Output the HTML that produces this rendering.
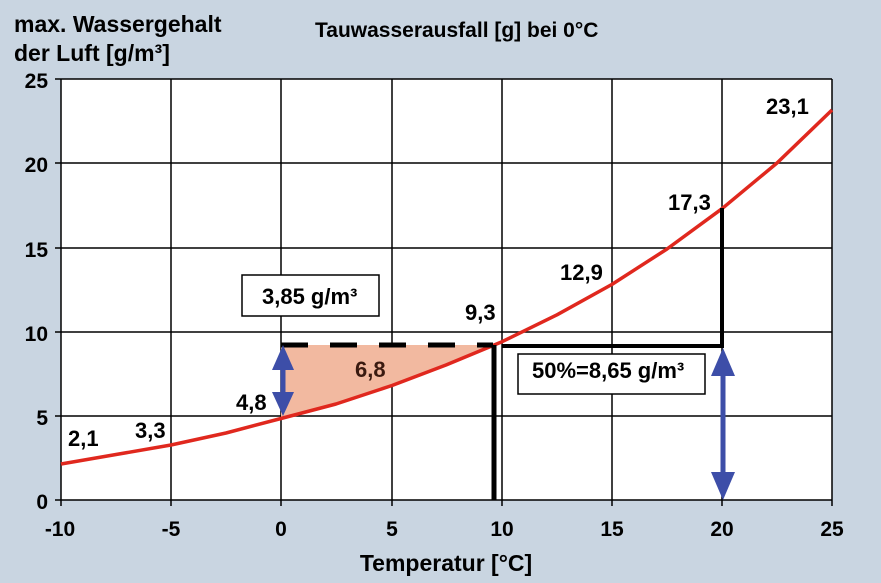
<!DOCTYPE html><html><head><style>body{margin:0;background:#c9d5e1}svg{display:block}text{font-family:"Liberation Sans",sans-serif;font-weight:bold;fill:#000}</style></head><body>
<svg width="881" height="583" viewBox="0 0 881 583">
<rect width="881" height="583" fill="#c9d5e1"/>
<rect x="61" y="79" width="771" height="421" fill="#fff"/>
<g stroke="#000" stroke-width="1.5">
<line x1="61" y1="79" x2="832" y2="79"/><line x1="61" y1="163" x2="832" y2="163"/><line x1="61" y1="248" x2="832" y2="248"/><line x1="61" y1="332" x2="832" y2="332"/><line x1="61" y1="416" x2="832" y2="416"/><line x1="61" y1="500" x2="832" y2="500"/>
<line x1="61" y1="79" x2="61" y2="506"/><line x1="171" y1="79" x2="171" y2="506"/><line x1="281" y1="79" x2="281" y2="506"/><line x1="392" y1="79" x2="392" y2="506"/><line x1="502" y1="79" x2="502" y2="506"/><line x1="612" y1="79" x2="612" y2="506"/><line x1="722" y1="79" x2="722" y2="506"/><line x1="832" y1="79" x2="832" y2="506"/>
<line x1="55" y1="79" x2="61" y2="79"/><line x1="55" y1="163" x2="61" y2="163"/><line x1="55" y1="248" x2="61" y2="248"/><line x1="55" y1="332" x2="61" y2="332"/><line x1="55" y1="416" x2="61" y2="416"/><line x1="55" y1="500" x2="61" y2="500"/>
</g>
<path d="M281,345 L493,345 L446,365 L419,375.5 L392,385.5 L364,395 L336,404 L308,411.5 L281,418.5 Z" fill="#f2b9a0"/>
<path d="M61,464 L116,454.5 L171,445 L226,433 L281,418.5 L336,404 L392,385.5 L446,365 L502,341.7 L557,314.8 L612,284.4 L667,249 L722,208.7 L777,163 L832,110" fill="none" stroke="#e0281e" stroke-width="3.5" stroke-linejoin="round"/>
<line x1="281" y1="345" x2="493" y2="345" stroke="#000" stroke-width="5" stroke-dasharray="27,22"/>
<line x1="494" y1="345" x2="494" y2="500" stroke="#000" stroke-width="5"/>
<polyline points="502,346 722,346 722,208" fill="none" stroke="#000" stroke-width="4"/>
<g fill="#3d4ea8" stroke="#3d4ea8">
<line x1="283" y1="360" x2="283" y2="402" stroke-width="5"/>
<polygon points="283,345 272,370 294,370" stroke="none"/><polygon points="283,416 272,392 294,392" stroke="none"/>
<line x1="723" y1="365" x2="723" y2="482" stroke-width="5"/>
<polygon points="723,348 711,376 735,376" stroke="none"/><polygon points="723,500 711,472 735,472" stroke="none"/>
</g>
<rect x="242" y="275" width="137" height="41" fill="#fff" stroke="#000" stroke-width="1.5"/>
<text x="262" y="304" font-size="22">3,85 g/m³</text>
<rect x="518" y="354" width="187" height="40" fill="#fff" stroke="#000" stroke-width="1.5"/>
<text x="532" y="378" font-size="22">50%=8,65 g/m³</text>
<g font-size="22">
<text x="68" y="446">2,1</text><text x="135" y="438">3,3</text><text x="236" y="410">4,8</text>
<text x="355" y="377" style="fill:#3a1a10">6,8</text><text x="465" y="320">9,3</text><text x="560" y="280">12,9</text>
<text x="668" y="210">17,3</text><text x="766" y="114">23,1</text>
</g>
<g font-size="21" text-anchor="end">
<text x="48" y="88">25</text><text x="48" y="172">20</text><text x="48" y="257">15</text><text x="48" y="341">10</text><text x="48" y="425">5</text><text x="48" y="509">0</text>
</g>
<g font-size="21" text-anchor="middle">
<text x="60" y="536">-10</text><text x="171" y="536">-5</text><text x="281" y="536">0</text><text x="392" y="536">5</text><text x="502" y="536">10</text><text x="612" y="536">15</text><text x="722" y="536">20</text><text x="832" y="536">25</text>
<text x="446" y="571" font-size="23">Temperatur [°C]</text>
</g>
<text x="14" y="32" font-size="23">max. Wassergehalt</text>
<text x="14" y="61" font-size="23">der Luft [g/m³]</text>
<text x="315" y="37" font-size="21">Tauwasserausfall [g] bei 0°C</text>
</svg></body></html>
